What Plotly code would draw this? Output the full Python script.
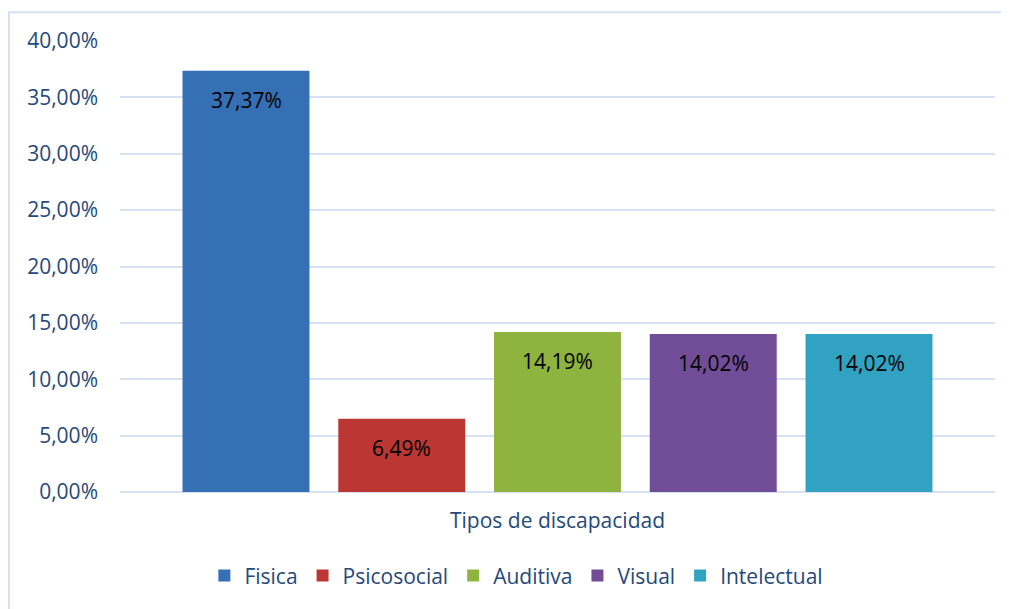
import plotly.graph_objects as go

categories = ["Tipos de discapacidad"]
series_names = ["Fisica", "Psicosocial", "Auditiva", "Visual", "Intelectual"]
values = [0.3737, 0.0649, 0.1419, 0.1402, 0.1402]
colors = ["#3570B5", "#BC3734", "#8EB33F", "#714D98", "#31A2C1"]
y_ticks = [0, 0.05, 0.10, 0.15, 0.20, 0.25, 0.30, 0.35, 0.40]

FONT = "Open Sans"
TEXT_BLUE = "#24497A"
FS = 21
bargap = 0.11
bargroupgap = 0.185

fig = go.Figure()
for name, v, c in zip(series_names, values, colors):
    fig.add_trace(go.Bar(
        x=categories, y=[v], name=name,
        marker=dict(color=c, line=dict(width=0)),
        hovertemplate="%{y:.2%}<extra>" + name + "</extra>",
    ))

n = len(series_names)
slot = (1 - bargap) / n
annotations = []
for i, v in enumerate(values):
    xc = -(1 - bargap) / 2 + (i + 0.5) * slot
    annotations.append(dict(
        x=xc, y=v, xref="x", yref="y", text=f"{v*100:.2f}%".replace(".", ","),
        showarrow=False, yanchor="middle", yshift=-29,
        font=dict(family=FONT, size=FS, color="#000000"),
    ))

fig.update_layout(
    width=1001, height=601,
    margin=dict(l=112, r=14, t=33, b=117),
    paper_bgcolor="white", plot_bgcolor="white",
    separators=",.",
    barmode="group", bargap=bargap, bargroupgap=bargroupgap,
    font=dict(family=FONT, size=FS, color=TEXT_BLUE),
    showlegend=True,
    legend=dict(orientation="h", x=0.453, xanchor="center", y=-0.186, yanchor="middle",
                font=dict(family=FONT, size=FS, color=TEXT_BLUE), itemsizing="constant",
                traceorder="normal"),
    annotations=annotations,
    shapes=[dict(type="rect", xref="paper", yref="paper", x0=-0.127, x1=1.03, y0=-0.4, y1=1.064,
                 line=dict(color="#D3E0F0", width=2), fillcolor="rgba(0,0,0,0)", layer="below")],
)
fig.update_yaxes(
    range=[0, 0.40], tickvals=y_ticks, tickformat=".2%",
    showgrid=True, gridcolor="#D6E2F2", gridwidth=2,
    zeroline=True, zerolinecolor="#D6E2F2", zerolinewidth=2,
    showline=False, ticks="", ticklabelstandoff=21,
    tickfont=dict(family=FONT, size=FS, color=TEXT_BLUE),
)
fig.update_xaxes(
    showgrid=False, showline=False, ticks="", ticklabelstandoff=14,
    tickfont=dict(family=FONT, size=FS, color=TEXT_BLUE),
)
fig.write_html("out.html")
